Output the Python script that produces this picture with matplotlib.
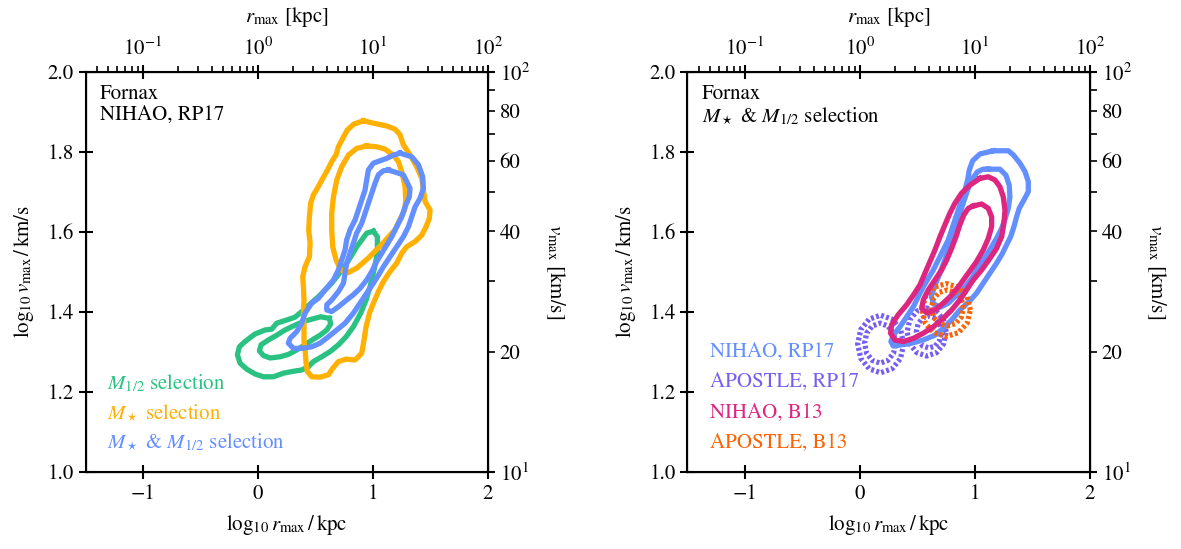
import numpy as np
import matplotlib
matplotlib.use("Agg")
import matplotlib.pyplot as plt
from matplotlib.ticker import FixedLocator, FuncFormatter, FormatStrFormatter

plt.rcParams['font.family'] = ['STIXGeneral', 'DejaVu Serif']
plt.rcParams['mathtext.fontset'] = 'stix'
plt.rcParams['font.size'] = 15

# contour outlines, (log10 rmax, log10 vmax)
# left panel: NIHAO, RP17
mstar_outer = [(0.916, 1.878), (1.003, 1.872), (1.119, 1.865), (1.192, 1.857), (1.235, 1.843),
               (1.264, 1.818), (1.322, 1.793), (1.380, 1.763), (1.424, 1.734), (1.438, 1.705),
               (1.453, 1.676), (1.496, 1.655), (1.490, 1.634), (1.461, 1.613), (1.424, 1.592),
               (1.366, 1.576), (1.293, 1.563), (1.250, 1.547), (1.206, 1.522), (1.148, 1.501),
               (1.090, 1.476), (1.047, 1.451), (1.003, 1.422), (0.969, 1.397), (0.940, 1.363),
               (0.922, 1.330), (0.902, 1.297), (0.844, 1.280), (0.766, 1.282), (0.699, 1.276),
               (0.650, 1.259), (0.612, 1.243), (0.540, 1.237), (0.467, 1.238), (0.429, 1.251),
               (0.418, 1.272), (0.412, 1.297), (0.400, 1.330), (0.400, 1.363), (0.395, 1.397),
               (0.400, 1.430), (0.395, 1.463), (0.389, 1.488), (0.409, 1.513), (0.447, 1.538),
               (0.453, 1.572), (0.441, 1.605), (0.447, 1.638), (0.458, 1.672), (0.482, 1.693),
               (0.516, 1.709), (0.563, 1.734), (0.612, 1.759), (0.641, 1.776), (0.679, 1.793),
               (0.699, 1.813), (0.737, 1.834), (0.777, 1.855), (0.835, 1.870)]
mstar_inner = [(0.945, 1.815), (1.032, 1.813), (1.105, 1.807), (1.177, 1.792), (1.221, 1.776),
               (1.250, 1.751), (1.279, 1.713), (1.285, 1.680), (1.275, 1.655), (1.190, 1.605),
               (1.080, 1.570), (0.960, 1.535), (0.860, 1.510), (0.780, 1.498), (0.720, 1.505),
               (0.679, 1.530), (0.650, 1.563), (0.641, 1.605), (0.641, 1.647), (0.656, 1.688),
               (0.685, 1.730), (0.728, 1.763), (0.786, 1.792), (0.858, 1.809)]
both_outer = [(1.235, 1.797), (1.337, 1.788), (1.395, 1.768), (1.432, 1.738), (1.438, 1.709),
              (1.409, 1.684), (1.366, 1.663), (1.337, 1.638), (1.308, 1.613), (1.264, 1.588),
              (1.206, 1.563), (1.148, 1.538), (1.090, 1.513), (1.047, 1.492), (1.003, 1.472),
              (0.945, 1.447), (0.887, 1.422), (0.829, 1.397), (0.757, 1.372), (0.685, 1.355),
              (0.612, 1.338), (0.540, 1.322), (0.467, 1.313), (0.380, 1.309), (0.308, 1.309),
              (0.264, 1.322), (0.279, 1.334), (0.337, 1.351), (0.380, 1.372), (0.409, 1.397),
              (0.467, 1.422), (0.525, 1.434), (0.583, 1.455), (0.656, 1.480), (0.699, 1.505),
              (0.728, 1.530), (0.757, 1.555), (0.771, 1.580), (0.800, 1.605), (0.844, 1.630),
              (0.873, 1.655), (0.902, 1.680), (0.931, 1.705), (0.945, 1.730), (0.960, 1.755),
              (1.003, 1.772), (1.119, 1.784), (1.177, 1.792)]
both_inner = [(1.134, 1.755), (1.264, 1.743), (1.322, 1.709), (1.316, 1.688), (1.279, 1.663),
              (1.250, 1.638), (1.206, 1.613), (1.163, 1.588), (1.119, 1.567), (1.076, 1.547),
              (1.032, 1.526), (0.989, 1.501), (0.945, 1.480), (0.887, 1.459), (0.829, 1.443),
              (0.771, 1.430), (0.699, 1.413), (0.641, 1.401), (0.598, 1.405), (0.598, 1.418),
              (0.641, 1.430), (0.699, 1.451), (0.743, 1.472), (0.757, 1.497), (0.771, 1.522),
              (0.800, 1.547), (0.829, 1.572), (0.858, 1.597), (0.902, 1.622), (0.931, 1.647),
              (0.960, 1.672), (0.989, 1.697), (1.018, 1.722), (1.047, 1.743), (1.090, 1.753)]
mhalf_outer = [(1.003, 1.602), (1.038, 1.588), (1.038, 1.547), (1.009, 1.505), (0.974, 1.463),
               (0.940, 1.430), (0.893, 1.397), (0.829, 1.363), (0.766, 1.338), (0.699, 1.318),
               (0.627, 1.301), (0.554, 1.288), (0.482, 1.276), (0.438, 1.263), (0.380, 1.255),
               (0.293, 1.251), (0.221, 1.247), (0.134, 1.238), (0.047, 1.238), (-0.026, 1.245),
               (-0.098, 1.257), (-0.156, 1.272), (-0.179, 1.293), (-0.162, 1.313), (-0.113, 1.326),
               (-0.026, 1.345), (0.061, 1.355), (0.119, 1.357), (0.163, 1.372), (0.250, 1.380),
               (0.322, 1.387), (0.380, 1.401), (0.453, 1.420), (0.525, 1.438), (0.583, 1.455),
               (0.641, 1.472), (0.685, 1.488), (0.728, 1.505), (0.771, 1.522), (0.815, 1.542),
               (0.858, 1.563), (0.902, 1.580), (0.945, 1.597)]
mhalf_inner = [(0.621, 1.384), (0.632, 1.370), (0.598, 1.355), (0.540, 1.342), (0.482, 1.332),
               (0.409, 1.318), (0.337, 1.305), (0.264, 1.294), (0.192, 1.288), (0.105, 1.285),
               (0.047, 1.291), (0.012, 1.303), (0.027, 1.318), (0.090, 1.330), (0.163, 1.342),
               (0.235, 1.355), (0.322, 1.367), (0.395, 1.376), (0.467, 1.382), (0.545, 1.388)]

# right panel: M* & M1/2 selection
nihao_rp17_outer = [(1.159, 1.803), (1.290, 1.803), (1.333, 1.793), (1.391, 1.772), (1.435, 1.751),
                    (1.464, 1.726), (1.464, 1.701), (1.426, 1.680), (1.385, 1.659), (1.362, 1.638),
                    (1.339, 1.613), (1.310, 1.588), (1.275, 1.568), (1.240, 1.547), (1.188, 1.522),
                    (1.130, 1.497), (1.072, 1.472), (1.014, 1.447), (0.956, 1.428), (0.869, 1.405),
                    (0.797, 1.380), (0.724, 1.359), (0.652, 1.342), (0.551, 1.330), (0.449, 1.322),
                    (0.362, 1.318), (0.290, 1.315), (0.269, 1.326), (0.290, 1.342), (0.348, 1.363),
                    (0.406, 1.388), (0.464, 1.413), (0.507, 1.438), (0.551, 1.463), (0.594, 1.484),
                    (0.638, 1.505), (0.681, 1.530), (0.724, 1.555), (0.768, 1.580), (0.797, 1.605),
                    (0.826, 1.630), (0.855, 1.655), (0.884, 1.680), (0.913, 1.705), (0.936, 1.730),
                    (0.951, 1.755), (0.980, 1.778), (1.043, 1.795)]
nihao_rp17_inner = [(1.116, 1.757), (1.217, 1.757), (1.269, 1.742), (1.298, 1.717), (1.304, 1.688),
                    (1.290, 1.659), (1.264, 1.634), (1.232, 1.609), (1.188, 1.584), (1.136, 1.559),
                    (1.081, 1.534), (1.023, 1.509), (0.971, 1.484), (0.913, 1.463), (0.840, 1.442),
                    (0.768, 1.422), (0.700, 1.412), (0.640, 1.420), (0.620, 1.440), (0.650, 1.465),
                    (0.700, 1.500), (0.750, 1.540), (0.800, 1.580), (0.850, 1.625), (0.890, 1.665),
                    (0.930, 1.700), (0.970, 1.730), (1.020, 1.750), (1.070, 1.757)]
nihao_b13_outer = [(1.043, 1.734), (1.116, 1.738), (1.174, 1.730), (1.217, 1.713), (1.246, 1.688),
                   (1.261, 1.655), (1.252, 1.622), (1.232, 1.588), (1.188, 1.559), (1.130, 1.534),
                   (1.058, 1.505), (0.985, 1.480), (0.927, 1.455), (0.869, 1.430), (0.797, 1.405),
                   (0.724, 1.384), (0.638, 1.363), (0.551, 1.347), (0.464, 1.334), (0.377, 1.326),
                   (0.304, 1.330), (0.266, 1.347), (0.275, 1.368), (0.333, 1.393), (0.406, 1.418),
                   (0.464, 1.442), (0.522, 1.468), (0.565, 1.497), (0.609, 1.526), (0.652, 1.555),
                   (0.696, 1.588), (0.739, 1.618), (0.782, 1.647), (0.826, 1.672), (0.884, 1.697),
                   (0.956, 1.717)]
nihao_b13_inner = [(0.985, 1.665), (1.058, 1.670), (1.116, 1.659), (1.145, 1.638), (1.145, 1.613),
                   (1.116, 1.584), (1.072, 1.555), (1.014, 1.526), (0.942, 1.497), (0.869, 1.468),
                   (0.797, 1.442), (0.724, 1.422), (0.652, 1.405), (0.580, 1.398), (0.536, 1.409),
                   (0.551, 1.430), (0.594, 1.455), (0.652, 1.480), (0.710, 1.505), (0.754, 1.530),
                   (0.797, 1.559), (0.835, 1.588), (0.869, 1.618), (0.904, 1.643), (0.942, 1.659)]
apostle_rp17_a_outer = [(0.380, 1.320), (0.353, 1.356), (0.280, 1.382), (0.180, 1.392), (0.080, 1.382),
                        (0.007, 1.356), (-0.020, 1.320), (0.007, 1.284), (0.080, 1.258), (0.180, 1.248),
                        (0.280, 1.258), (0.353, 1.284)]
apostle_rp17_a_inner = [(0.310, 1.322), (0.292, 1.347), (0.243, 1.365), (0.175, 1.372), (0.107, 1.365),
                        (0.058, 1.347), (0.040, 1.322), (0.058, 1.297), (0.107, 1.279), (0.175, 1.272),
                        (0.243, 1.279), (0.292, 1.297)]
apostle_rp17_b_outer = [(0.750, 1.350), (0.727, 1.380), (0.665, 1.402), (0.580, 1.410), (0.495, 1.402),
                        (0.433, 1.380), (0.410, 1.350), (0.433, 1.320), (0.495, 1.298), (0.580, 1.290),
                        (0.665, 1.298), (0.727, 1.320)]
apostle_rp17_b_inner = [(0.710, 1.350), (0.695, 1.370), (0.655, 1.385), (0.600, 1.390), (0.545, 1.385),
                        (0.505, 1.370), (0.490, 1.350), (0.505, 1.330), (0.545, 1.315), (0.600, 1.310),
                        (0.655, 1.315), (0.695, 1.330)]
apostle_b13_outer = [(0.960, 1.405), (0.932, 1.438), (0.855, 1.462), (0.750, 1.471), (0.645, 1.462),
                     (0.568, 1.438), (0.540, 1.405), (0.568, 1.372), (0.645, 1.348), (0.750, 1.339),
                     (0.855, 1.348), (0.932, 1.372)]
apostle_b13_inner = [(0.900, 1.410), (0.881, 1.433), (0.830, 1.449), (0.760, 1.455), (0.690, 1.449),
                     (0.639, 1.433), (0.620, 1.410), (0.639, 1.387), (0.690, 1.371), (0.760, 1.365),
                     (0.830, 1.371), (0.881, 1.387)]

green = '#29C283'
amber = '#FFB000'
blue = '#648FFF'
purple = '#785EF0'
magenta = '#DC267F'
orange = '#FE6100'

LW = 3.8
DOTS = (0, (0.55, 0.45))
FS = 15


def draw(ax, pts, color, ls='-', z=2):
    a = np.array(pts + pts[:1])
    ax.plot(a[:, 0], a[:, 1], color=color, lw=LW, ls=ls, zorder=z,
            solid_joinstyle='round', dash_joinstyle='round')


def setup(ax):
    ax.set_xlim(-1.5, 2)
    ax.set_ylim(1, 2)
    ax.set_xticks([-1, 0, 1, 2])
    ax.set_yticks([1.0, 1.2, 1.4, 1.6, 1.8, 2.0])
    ax.yaxis.set_major_formatter(FormatStrFormatter('%.1f'))
    ax.tick_params(direction='inout', length=10, width=1.5, labelsize=FS)
    for s in ax.spines.values():
        s.set_linewidth(1.5)
    ax.set_xlabel(r'$\log_{10}r_{\rm max}\,/\,{\rm kpc}$', fontsize=FS, labelpad=7)
    ax.set_ylabel(r'$\log_{10}v_{\rm max}\,/\,{\rm km/s}$', fontsize=FS, labelpad=8)

    top = ax.twiny()
    top.set_xscale('log')
    top.set_xlim(10 ** -1.5, 10 ** 2)
    top.tick_params(which='major', direction='inout', length=10, width=1.5, labelsize=FS)
    top.tick_params(which='minor', direction='out', length=4, width=1.2)
    top.set_xlabel(r'$r_{\rm max}$ [kpc]', fontsize=FS, labelpad=11)

    right = ax.twinx()
    right.set_yscale('log')
    right.set_ylim(10, 100)
    right.yaxis.set_minor_locator(FixedLocator([20, 30, 40, 50, 60, 70, 80, 90]))
    right.yaxis.set_minor_formatter(FuncFormatter(
        lambda v, p: '%d' % round(v) if round(v) in (20, 40, 60, 80) else ''))
    right.tick_params(which='major', direction='inout', length=10, width=1.5, labelsize=FS)
    right.tick_params(which='minor', direction='out', length=5, width=1.2, labelsize=FS)
    right.set_ylabel(r'$v_{\rm max}$ [km/s]', rotation=270, fontsize=FS, labelpad=26)


fig = plt.figure(figsize=(11.81, 5.49), dpi=100)
ax1 = fig.add_axes([0.0724, 0.1403, 0.3408, 0.7286])
ax2 = fig.add_axes([0.5821, 0.1403, 0.3408, 0.7286])

# left panel
draw(ax1, mhalf_outer, green, z=2)
draw(ax1, mhalf_inner, green, z=2)
draw(ax1, mstar_outer, amber, z=3)
draw(ax1, mstar_inner, amber, z=3)
draw(ax1, both_outer, blue, z=4)
draw(ax1, both_inner, blue, z=4)
ax1.text(0.036, 0.97, 'Fornax\nNIHAO, RP17', transform=ax1.transAxes,
         ha='left', va='top', fontsize=FS, linespacing=1.1)
ax1.text(0.053, 0.2225, r'$M_{1/2}$ selection', color=green, transform=ax1.transAxes,
         ha='left', va='center', fontsize=FS)
ax1.text(0.053, 0.1475, r'$M_\star$ selection', color=amber, transform=ax1.transAxes,
         ha='left', va='center', fontsize=FS)
ax1.text(0.053, 0.075, r'$M_\star$ & $M_{1/2}$ selection', color=blue, transform=ax1.transAxes,
         ha='left', va='center', fontsize=FS)
setup(ax1)

# right panel
draw(ax2, apostle_rp17_a_outer, purple, ls=DOTS, z=2)
draw(ax2, apostle_rp17_a_inner, purple, ls=DOTS, z=2)
draw(ax2, apostle_rp17_b_outer, purple, ls=DOTS, z=2)
draw(ax2, apostle_rp17_b_inner, purple, ls=DOTS, z=2)
draw(ax2, nihao_rp17_outer, blue, z=3)
draw(ax2, nihao_rp17_inner, blue, z=3)
draw(ax2, apostle_b13_outer, orange, ls=DOTS, z=4)
draw(ax2, apostle_b13_inner, orange, ls=DOTS, z=4)
draw(ax2, nihao_b13_outer, magenta, z=5)
draw(ax2, nihao_b13_inner, magenta, z=5)
ax2.text(0.036, 0.97, 'Fornax\n' + r'$M_\star$ & $M_{1/2}$ selection', transform=ax2.transAxes,
         ha='left', va='top', fontsize=FS, linespacing=1.1)
labels = ['NIHAO, RP17', 'APOSTLE, RP17', 'NIHAO, B13', 'APOSTLE, B13']
colors = [blue, purple, magenta, orange]
rows = [0.30, 0.225, 0.1475, 0.0725]
for lab, c, yy in zip(labels, colors, rows):
    ax2.text(0.055, yy, lab, color=c, transform=ax2.transAxes, ha='left', va='center', fontsize=FS)
setup(ax2)

fig.savefig('out.png', dpi=100)
